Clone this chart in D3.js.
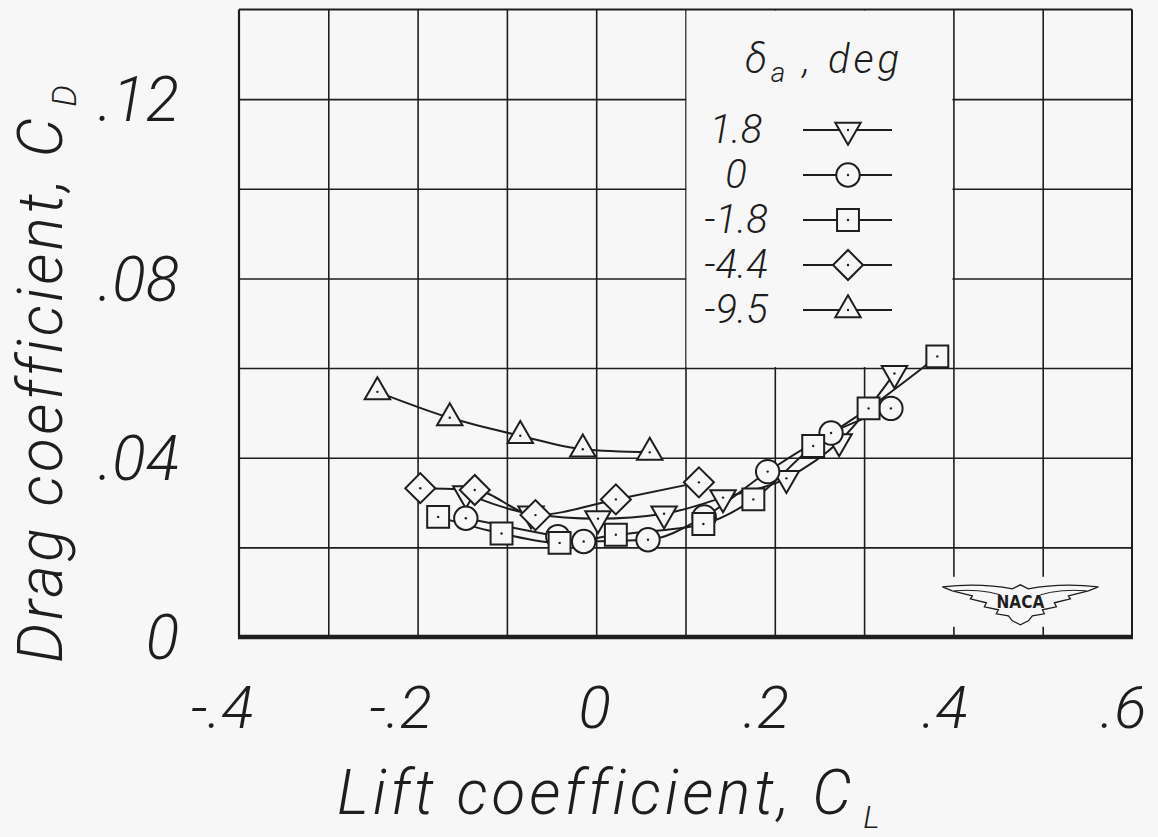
<!DOCTYPE html>
<html>
<head>
<meta charset="utf-8">
<script src="https://cdn.jsdelivr.net/npm/d3@7"></script>
<style>
  html, body { margin: 0; padding: 0; background: #f7f7f7; }
  svg { display: block; }
  text { font-family: "Roboto", "Lato", "DejaVu Sans", sans-serif; font-style: italic; font-weight: 300; fill: #1e1e1e; }
</style>
</head>
<body>
<svg id="chart" width="1158" height="837"></svg>
<script>
// ---------------- data ----------------
const seriesLabels = ["1.8", "0", "-1.8", "-4.4", "-9.5"];
const seriesSymbols = ["triangleDown", "circle", "square", "diamond", "triangleUp"];

const clDa18  = [-0.146, -0.073, 0.002, 0.076, 0.142, 0.213, 0.272, 0.334];
const cdDa18  = [0.0320, 0.0275, 0.0264, 0.0275, 0.0311, 0.0354, 0.0436, 0.0588];

const clDa0   = [-0.146, -0.043, -0.014, 0.058, 0.121, 0.192, 0.263, 0.330];
const cdDa0   = [0.0265, 0.0224, 0.0213, 0.0217, 0.0268, 0.0369, 0.0455, 0.0510];

const clDaM18 = [-0.177, -0.106, -0.041, 0.022, 0.120, 0.176, 0.243, 0.305, 0.382];
const cdDaM18 = [0.0268, 0.0231, 0.0210, 0.0228, 0.0252, 0.0307, 0.0426, 0.0510, 0.0626];

const clDaM44 = [-0.197, -0.136, -0.068, 0.022, 0.115];
const cdDaM44 = [0.0332, 0.0328, 0.0272, 0.0307, 0.0345];

const clDaM95 = [-0.245, -0.164, -0.085, -0.015, 0.060];
const cdDaM95 = [0.0547, 0.0489, 0.0449, 0.0419, 0.0412];

const xTickValues = [-0.4, -0.2, 0, 0.2, 0.4, 0.6];
const xTickLabels = ["-.4", "-.2", "0", ".2", ".4", ".6"];
const yTickValues = [0, 0.04, 0.08, 0.12];
const yTickLabels = ["0", ".04", ".08", ".12"];

const xTitle = "Lift coefficient, C";
const xTitleSub = "L";
const yTitle = "Drag coefficient, C";
const yTitleSub = "D";
const legendTitle = "δ";
const legendTitleSub = "a";
const legendTitleRest = " , deg";

// ---------------- setup ----------------
const svg = d3.select("#chart");
const ink = "#1e1e1e";
const bg = "#f7f7f7";

const x = d3.scaleLinear().domain([-0.4, 0.6]).range([239, 1132]);
const y = d3.scaleLinear().domain([0, 0.14]).range([637, 9.5]);

const series = seriesLabels.map((label, i) => {
  const cls = [clDa18, clDa0, clDaM18, clDaM44, clDaM95][i];
  const cds = [cdDa18, cdDa0, cdDaM18, cdDaM44, cdDaM95][i];
  return { label, symbol: seriesSymbols[i], points: cls.map((c, j) => ({ cl: c, cd: cds[j] })) };
});

// ---------------- grid ----------------
const grid = svg.append("g");
grid.append("g")
  .attr("transform", `translate(0,${y(0)})`)
  .call(d3.axisBottom(x).tickValues(d3.range(-3, 6).map(d => d / 10)).tickSize(-(y(0) - y(0.14))).tickFormat(""))
  .call(g => g.select(".domain").remove())
  .call(g => g.selectAll("line").attr("stroke", ink).attr("stroke-width", 1.6));
grid.append("g")
  .attr("transform", `translate(${x(-0.4)},0)`)
  .call(d3.axisLeft(y).tickValues(d3.range(1, 7).map(d => d * 0.02)).tickSize(-(x(0.6) - x(-0.4))).tickFormat(""))
  .call(g => g.select(".domain").remove())
  .call(g => g.selectAll("line").attr("stroke", ink).attr("stroke-width", 1.6));

// legend area clears the grid
svg.append("rect")
  .attr("x", x(0.1) + 1).attr("y", y(0.14) + 1)
  .attr("width", x(0.4) - x(0.1) - 2).attr("height", y(0.06) - y(0.14) - 2)
  .attr("fill", bg);

// frame
svg.append("line").attr("x1", x(-0.4)).attr("x2", x(0.6)).attr("y1", y(0.14)).attr("y2", y(0.14)).attr("stroke", ink).attr("stroke-width", 2);
svg.append("line").attr("x1", x(-0.4)).attr("x2", x(-0.4)).attr("y1", y(0.14)).attr("y2", y(0)).attr("stroke", ink).attr("stroke-width", 2.2);
svg.append("line").attr("x1", x(0.6)).attr("x2", x(0.6)).attr("y1", y(0.14)).attr("y2", y(0)).attr("stroke", ink).attr("stroke-width", 2);
svg.append("line").attr("x1", x(-0.4) - 1).attr("x2", x(0.6) + 1).attr("y1", y(0)).attr("y2", y(0)).attr("stroke", ink).attr("stroke-width", 4.5);

// ---------------- NACA logo ----------------
const logo = svg.append("g").attr("transform", `translate(${x(0.475)},${y(0.0112)})`);
logo.append("rect").attr("x", -80).attr("y", -10).attr("width", 160).attr("height", 50).attr("fill", bg);
logo.append("path")
  .attr("d", "M-78,0 Q-40,-4 -8,2 L0,-2 L8,2 Q40,-4 78,0 L68,4 L48,9 L50,12 L34,16 L36,20 L22,23 L24,27 L12,29 L8,34 L0,38 L-8,34 L-12,29 L-24,27 L-22,23 L-36,20 L-34,16 L-50,12 L-48,9 L-68,4 Z")
  .attr("fill", bg).attr("stroke", ink).attr("stroke-width", 1.3);
logo.append("path")
  .attr("d", "M-66,4 Q-40,2 -20,8 M66,4 Q40,2 20,8")
  .attr("fill", "none").attr("stroke", ink).attr("stroke-width", 1);
logo.append("text").attr("x", 0).attr("y", 21).attr("text-anchor", "middle")
  .style("font-style", "normal").style("font-weight", 700).style("font-family", "'DejaVu Sans Condensed', 'Liberation Sans Narrow', sans-serif")
  .attr("font-size", 17).text("NACA");

// ---------------- series ----------------
function symbolPath(kind) {
  if (kind === "circle") return d3.symbol(d3.symbolCircle, 430)();
  if (kind === "square") return d3.symbol(d3.symbolSquare, 480)();
  if (kind === "diamond") return d3.symbol(d3.symbolSquare, 450)();
  return d3.symbol(d3.symbolTriangle, 280)();
}
function symbolRotate(kind) {
  if (kind === "diamond") return 45;
  if (kind === "triangleDown") return 180;
  return 0;
}

const line = d3.line().x(d => x(d.cl)).y(d => y(d.cd)).curve(d3.curveMonotoneX);

const lines = svg.append("g");
series.forEach(s => {
  lines.append("path").attr("d", line(s.points)).attr("fill", "none").attr("stroke", ink).attr("stroke-width", 2);
});

const marks = svg.append("g");
series.forEach(s => {
  const g = marks.append("g");
  const m = g.selectAll("g").data(s.points).join("g")
    .attr("transform", d => `translate(${x(d.cl)},${y(d.cd)})`);
  m.append("path").attr("d", symbolPath(s.symbol)).attr("transform", `rotate(${symbolRotate(s.symbol)})`)
    .attr("fill", bg).attr("stroke", ink).attr("stroke-width", 2);
  m.append("circle").attr("r", 1.2).attr("fill", ink);
});

// ---------------- axes labels ----------------
const xAxis = svg.append("g").attr("transform", `translate(0,${y(0)})`)
  .call(d3.axisBottom(x).tickValues(xTickValues).tickSize(0).tickPadding(0)
    .tickFormat((d, i) => xTickLabels[i]));
xAxis.select(".domain").remove();
xAxis.selectAll("text").attr("fill", ink).attr("font-size", 60).attr("text-anchor", "end")
  .attr("dx", 14).attr("dy", 0).attr("y", 91);

const yAxis = svg.append("g").attr("transform", `translate(${x(-0.4)},0)`)
  .call(d3.axisLeft(y).tickValues(yTickValues).tickSize(0).tickPadding(0)
    .tickFormat((d, i) => yTickLabels[i]));
yAxis.select(".domain").remove();
yAxis.selectAll("text").attr("fill", ink).attr("font-size", 62).attr("text-anchor", "end")
  .attr("x", -60).attr("dy", "0.35em");

// x title
const xt = svg.append("text").attr("x", 337).attr("y", 814).attr("font-size", 62).attr("letter-spacing", 4);
xt.append("tspan").text(xTitle);
xt.append("tspan").attr("font-size", 32).attr("dy", 14).attr("dx", 8).text(xTitleSub);

// y title
const yt = svg.append("text").attr("transform", "translate(62,663) rotate(-90)").attr("font-size", 62).attr("letter-spacing", 3.5);
yt.append("tspan").text(yTitle);
yt.append("tspan").attr("font-size", 34).attr("dy", 14).attr("dx", 8).text(yTitleSub);

// ---------------- legend ----------------
const leg = svg.append("g");
const lt = leg.append("text").attr("x", 745).attr("y", 73).attr("font-size", 40).attr("letter-spacing", 4);
lt.append("tspan").text(legendTitle);
lt.append("tspan").attr("font-size", 28).attr("dy", 9).text(legendTitleSub);
lt.append("tspan").attr("dy", -9).text(legendTitleRest);

series.forEach((s, i) => {
  const ry = 130 + i * 45;
  leg.append("text").attr("x", 736).attr("y", ry + 13).attr("text-anchor", "middle").attr("font-size", 40).text(s.label);
  leg.append("line").attr("x1", 803).attr("x2", 892).attr("y1", ry).attr("y2", ry).attr("stroke", ink).attr("stroke-width", 2);
  const m = leg.append("g").attr("transform", `translate(848,${ry})`);
  m.append("path").attr("d", symbolPath(s.symbol)).attr("transform", `rotate(${symbolRotate(s.symbol)})`)
    .attr("fill", bg).attr("stroke", ink).attr("stroke-width", 2);
  m.append("circle").attr("r", 1.2).attr("fill", ink);
});
</script>
</body>
</html>
